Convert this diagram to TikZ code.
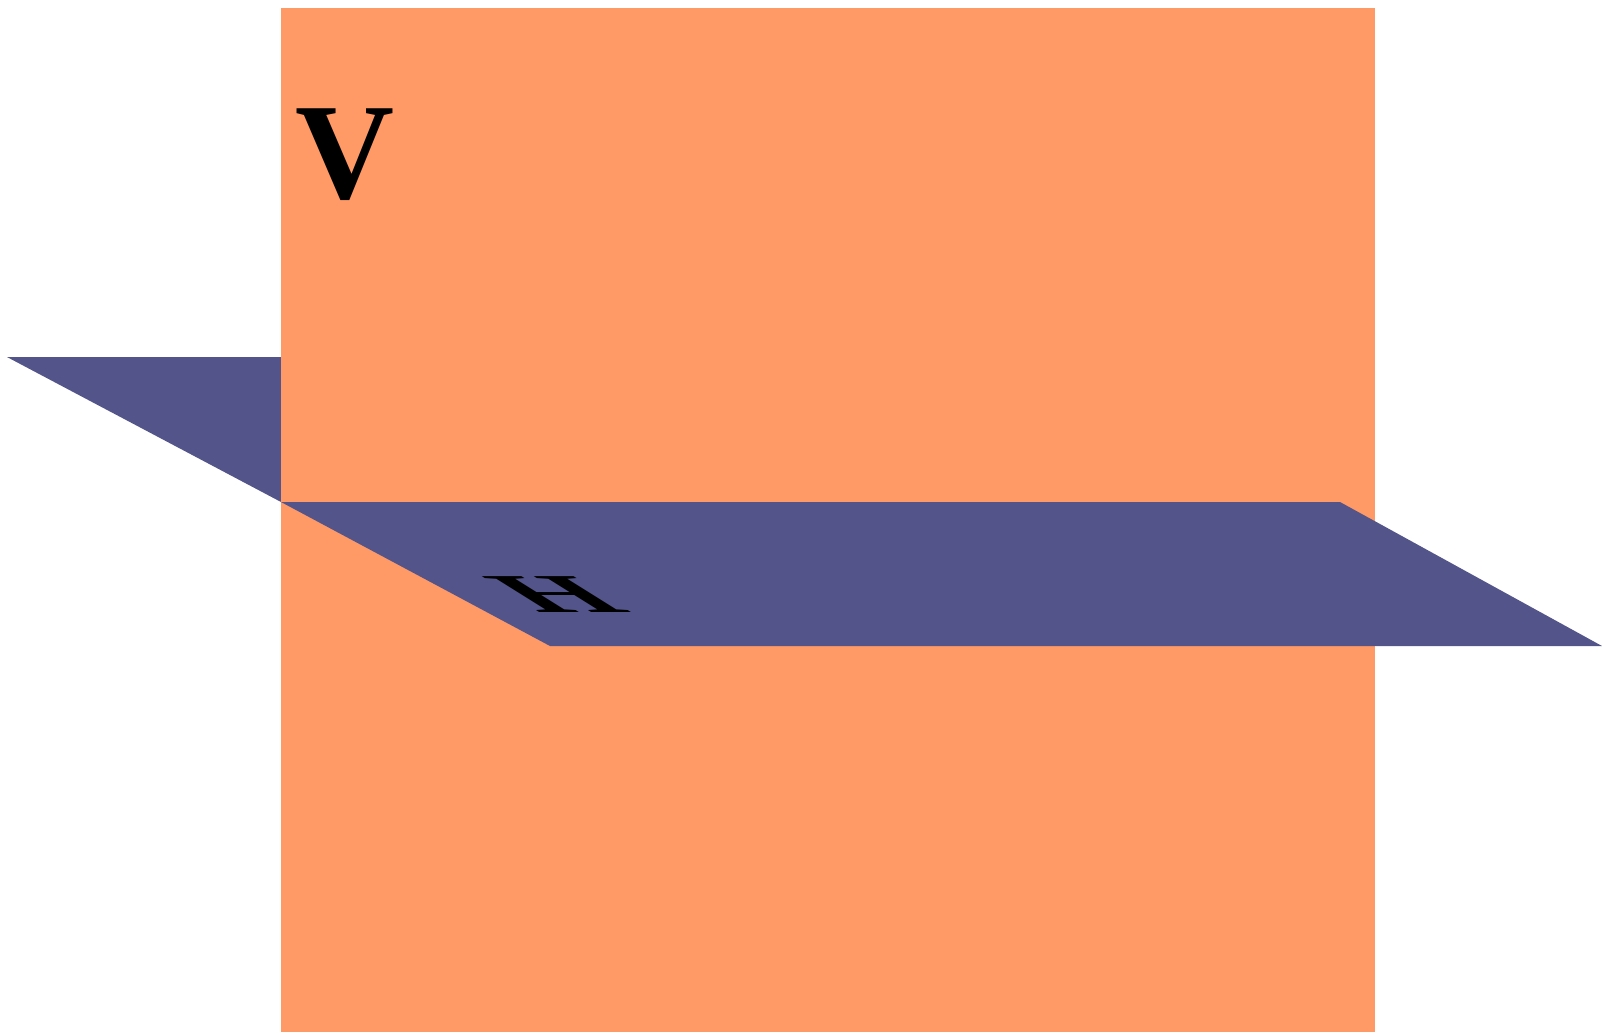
\documentclass[tikz,border=0pt]{standalone}
\usepackage{fontspec}
\setmainfont{Liberation Serif}
\usepackage{xcolor}
\usepackage{tikz}
\definecolor{planeorange}{RGB}{255,153,102}
\definecolor{planeblue}{RGB}{83,84,137}
\usetikzlibrary{positioning,calc}

\begin{document}
\begin{tikzpicture}[
    vplane/.style={fill=planeorange, draw=none},
    hplane/.style={fill=planeblue, draw=none},
    label/.style={font=\fontsize{39}{39}\selectfont\bfseries, inner sep=0pt, text=black}
]
\useasboundingbox (0,0) rectangle (16.02,10.32);

% corners of the horizontal plane
\coordinate (backL) at (0.07,6.75);
\coordinate (backR) at (10.66,6.75);
\coordinate (midL) at (2.81,5.30);
\coordinate (midR) at (13.40,5.30);
\coordinate (frontL) at (5.50,3.86);
\coordinate (frontR) at (16.02,3.86);

% back half of H, then V, then front half of H
\fill[hplane] (backL) -- (backR) -- (midR) -- (midL) -- cycle;
\fill[vplane] (2.81,0) rectangle (13.75,10.24);
\fill[hplane] (midL) -- (midR) -- (frontR) -- (frontL) -- cycle;

\node[label] (vlabel) at (3.45,8.77) {V};
\node[label, cm={0.9,0,-0.64,0.4,(0,0)}] (hlabel) at (5.57,4.37) {H};

\end{tikzpicture}
\end{document}
